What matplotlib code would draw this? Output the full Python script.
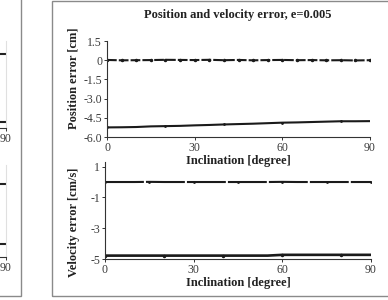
import numpy as np
import matplotlib
matplotlib.use("Agg")
import matplotlib.pyplot as plt
from matplotlib.patches import Rectangle

plt.rcParams['font.family'] = ['Liberation Serif', 'DejaVu Serif']
plt.rcParams['lines.scale_dashes'] = False
plt.rcParams['axes.unicode_minus'] = False

# inclination [degree]
incl = [0, 5, 10, 15, 20, 25, 30, 35, 40, 45, 50, 55, 60, 65, 70, 75, 80, 85, 90]
# position error [cm]
pos_a = [0.02, -0.01, 0.0, 0.01, 0.03, 0.02, 0.01, 0.03, 0.0, 0.02, -0.01, 0.01, 0.02, 0.0, 0.01, -0.01, 0.0, -0.02, 0.0]
pos_b = [-5.25, -5.24, -5.22, -5.17, -5.15, -5.13, -5.09, -5.06, -5.02, -4.99, -4.96, -4.92, -4.88, -4.86, -4.83, -4.80, -4.77, -4.77, -4.76]
# velocity error [cm/s]
vel_a = [0.0, 0.0, 0.0, 0.01, 0.0, 0.0, 0.0, 0.0, 0.0, 0.0, 0.0, 0.0, 0.01, 0.0, 0.0, 0.0, 0.0, 0.0, 0.0]
vel_b = [-4.78, -4.78, -4.78, -4.78, -4.78, -4.78, -4.78, -4.78, -4.78, -4.78, -4.78, -4.78, -4.73, -4.73, -4.73, -4.73, -4.73, -4.73, -4.73]

# neighbouring panel (only its right edge is visible)
left_incl = [0, 45, 90]
left_pos_a = [0.38, 0.38, 0.38]
left_pos_b = [-5.48, -5.48, -5.48]
left_vel_a = [0.0, 0.0, 0.0]
left_vel_b = [-4.1, -4.1, -4.1]

W, H = 388, 300
fig = plt.figure(figsize=(W / 100, H / 100), dpi=100)

def box(x0, y0, x1, y1):
    # pixel coords, y from top
    return [x0 / W, 1 - y1 / H, (x1 - x0) / W, (y1 - y0) / H]

def style(ax, yt, ylim):
    ax.set_facecolor('none')
    for s in ['top', 'right']:
        ax.spines[s].set_visible(False)
    for s in ['left', 'bottom']:
        ax.spines[s].set_color('#333333')
        ax.spines[s].set_linewidth(0.8)
    ax.set_xlim(0, 90)
    ax.set_ylim(*ylim)
    ax.set_xticks([0, 30, 60, 90])
    ax.set_yticks(yt)
    ax.tick_params(direction='out', length=2.5, width=0.7, color='#333333',
                   labelsize=8.5, labelcolor='#3a3a3a', pad=1)

# panel frames
fig.patches.append(Rectangle((52 / W, 1 - 296 / H), 1.2, 295 / H, transform=fig.transFigure,
                             fill=False, edgecolor='#8a8a8a', lw=1.0))
fig.patches.append(Rectangle((-0.5, 1 - 296 / H), 0.5 + 21 / W, 1.5, transform=fig.transFigure,
                             fill=False, edgecolor='#8a8a8a', lw=1.0))

lw = 1.5
# neighbouring panel axes
for pos, ya, yb, yl in [((-200, 41, 6, 128), left_pos_a, left_pos_b, (-6, 1.5)),
                        ((-200, 165, 6, 257), left_vel_a, left_vel_b, (-5, 1.3))]:
    axl = fig.add_axes(box(*pos))
    style(axl, [], yl)
    axl.set_xticks([90])
    axl.spines['left'].set_visible(False)
    axl.spines['right'].set_visible(True)
    axl.spines['right'].set_color('#e0e0e0')
    axl.plot(left_incl, ya, color='#222222', lw=lw)
    axl.plot(left_incl, yb, color='#222222', lw=lw)

# position error
ax1 = fig.add_axes(box(107, 41, 370, 137))
style(ax1, [1.5, 0, -1.5, -3.0, -4.5, -6.0], (-6, 1.5))
ax1.set_yticklabels(['1.5', '0', '-1.5', '-3.0', '-4.5', '-6.0'])
ax1.plot(incl, pos_a, color='#1a1a1a', lw=lw, linestyle=(0, (7, 1.5)),
         marker='.', markersize=3)
ax1.plot(incl, pos_b, color='#1a1a1a', lw=lw, marker='.', markersize=2, markevery=4)
ax1.set_xlabel('Inclination [degree]', fontsize=9, fontweight='bold', color='#222222')
ax1.xaxis.set_label_coords(0.5, -0.19)
ax1.set_ylabel('Position error [cm]', fontsize=9, fontweight='bold', color='#222222')
ax1.yaxis.set_label_coords(-0.103, 0.615)

# velocity error
ax2 = fig.add_axes(box(105, 162, 371, 259))
style(ax2, [1, -1, -3, -5], (-5, 1.3))
ax2.plot(incl, vel_a, color='#1a1a1a', lw=lw, linestyle=(0, (28, 1.5)),
         marker='.', markersize=2, markevery=3)
ax2.plot(incl, vel_b, color='#1a1a1a', lw=lw + 0.4, marker='.', markersize=3, markevery=4)
ax2.set_xlabel('Inclination [degree]', fontsize=9, fontweight='bold', color='#222222')
ax2.xaxis.set_label_coords(0.5, -0.19)
ax2.set_ylabel('Velocity error [cm/s]', fontsize=9, fontweight='bold', color='#222222')
ax2.yaxis.set_label_coords(-0.094, 0.38)

fig.text(238 / W, 1 - 15 / H, 'Position and velocity error, e=0.005', ha='center', va='center',
         fontsize=9, fontweight='bold', color='#222222')

fig.savefig('out.png', dpi=100)
